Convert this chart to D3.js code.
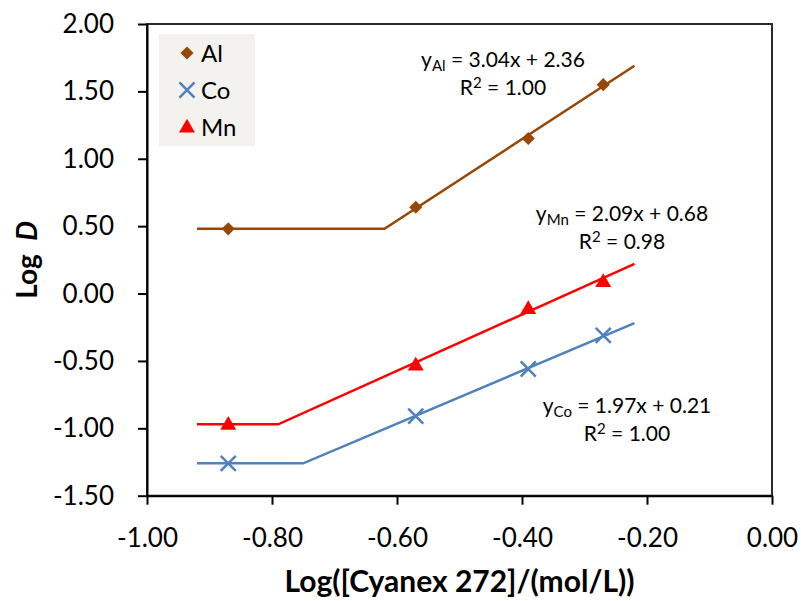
<!DOCTYPE html>
<html>
<head>
<meta charset="utf-8">
<script src="https://cdn.jsdelivr.net/npm/d3@7"></script>
<style>
  html, body { margin: 0; padding: 0; background: #fff; }
  svg { display: block; font-family: Lato, "Open Sans", sans-serif; }
</style>
</head>
<body>
<svg id="chart" width="801" height="601"></svg>
<script>
// ---- data ----
const xValues = [-0.87, -0.57, -0.39, -0.27];
const alValues = [0.48, 0.64, 1.15, 1.55];
const coValues = [-1.26, -0.91, -0.56, -0.31];
const mnValues = [-0.97, -0.53, -0.11, 0.09];

// fitted-line vertices (plateau then linear trend)
const alLineX = [-0.92, -0.62, -0.22];
const alLineY = [0.48, 0.48, 1.69];
const coLineX = [-0.92, -0.75, -0.22];
const coLineY = [-1.26, -1.26, -0.22];
const mnLineX = [-0.92, -0.79, -0.22];
const mnLineY = [-0.97, -0.97, 0.22];

const seriesNames = ["Al", "Co", "Mn"];
const xTicks = [-1.0, -0.8, -0.6, -0.4, -0.2, 0.0];
const yTicks = [2.0, 1.5, 1.0, 0.5, 0.0, -0.5, -1.0, -1.5];

const equations = [
  {sub: "Al", eq: " = 3.04x + 2.36", r2: " = 1.00"},
  {sub: "Mn", eq: " = 2.09x + 0.68", r2: " = 0.98"},
  {sub: "Co", eq: " = 1.97x + 0.21", r2: " = 1.00"}
];

// ---- layout ----
const svg = d3.select("#chart");
const pL = 147, pR = 772, pT = 24, pB = 495.7;
const x = d3.scaleLinear().domain([-1, 0]).range([pL, pR]);
const y = d3.scaleLinear().domain([-1.5, 2]).range([pB, pT]);

const colors = {Al: "#974706", Co: "#4F81BD", Mn: "#FF0000"};

// plot frame
svg.append("rect").attr("x", pL).attr("y", pT)
  .attr("width", pR - pL).attr("height", pB - pT)
  .attr("fill", "none").attr("stroke", "#2b2b2b").attr("stroke-width", 2);

// axes
const f2 = d3.format(".2f");
const fmt = v => f2(v).replace("\u2212", "-");
const xAxis = svg.append("g").attr("transform", `translate(0,${pB})`)
  .call(d3.axisBottom(x).tickValues(xTicks).tickFormat(fmt).tickSizeInner(9).tickSizeOuter(0).tickPadding(14));
const yAxis = svg.append("g").attr("transform", `translate(${pL},0)`)
  .call(d3.axisLeft(y).tickValues(yTicks).tickFormat(fmt).tickSizeInner(9).tickSizeOuter(0).tickPadding(24));
[xAxis, yAxis].forEach(a => {
  a.select(".domain").attr("stroke", "#000").attr("stroke-width", 2);
  a.selectAll(".tick line").attr("stroke", "#000").attr("stroke-width", 2);
  a.selectAll(".tick text").attr("font-family", "Lato, sans-serif")
    .attr("font-size", 26).attr("fill", "#000");
});
xAxis.selectAll(".tick text").attr("dy", null).attr("y", 51);
yAxis.selectAll(".tick text").attr("dy", "0.33em");

// axis titles
svg.append("text").attr("x", (pL + pR) / 2).attr("y", 592)
  .attr("text-anchor", "middle").attr("font-weight", "bold").attr("font-size", 30)
  .text("Log([Cyanex 272]/(mol/L))");
const yt = svg.append("text")
  .attr("transform", `translate(37,${(pT + pB) / 2}) rotate(-90)`)
  .attr("text-anchor", "middle").attr("font-weight", "bold").attr("font-size", 28)
  .attr("xml:space", "preserve");
yt.append("tspan").text("Log\u00a0\u00a0");
yt.append("tspan").attr("font-style", "italic").text("D");

// lines
const line = d3.line().x(d => x(d[0])).y(d => y(d[1]));
const lines = {
  Al: d3.zip(alLineX, alLineY),
  Co: d3.zip(coLineX, coLineY),
  Mn: d3.zip(mnLineX, mnLineY)
};
["Al", "Mn", "Co"].forEach(k => {
  svg.append("path").datum(lines[k]).attr("d", line)
    .attr("fill", "none").attr("stroke", colors[k]).attr("stroke-width", 2.5);
});

// markers
function drawMarker(g, name, cx, cy) {
  if (name === "Al") {
    g.append("path").attr("d", d3.symbol().type(d3.symbolDiamond2).size(110)())
      .attr("transform", `translate(${cx},${cy})`).attr("fill", colors.Al);
  } else if (name === "Co") {
    g.append("path").attr("d", d3.symbol().type(d3.symbolX).size(150)())
      .attr("transform", `translate(${cx},${cy})`).attr("fill", "none")
      .attr("stroke", colors.Co).attr("stroke-width", 2.5);
  } else {
    g.append("path").attr("d", d3.symbol().type(d3.symbolTriangle).size(110)())
      .attr("transform", `translate(${cx},${cy + 1})`).attr("fill", colors.Mn);
  }
}
const seriesData = {Al: alValues, Co: coValues, Mn: mnValues};
const mg = svg.append("g");
["Al", "Mn", "Co"].forEach(k => {
  seriesData[k].forEach((v, i) => drawMarker(mg, k, x(xValues[i]), y(v)));
});

// equations
const eqPos = [
  {cx: 503, y1: 67, y2: 95},
  {cx: 622, y1: 221, y2: 249},
  {cx: 627, y1: 413, y2: 441}
];
equations.forEach((e, i) => {
  const p = eqPos[i];
  const t1 = svg.append("text").attr("x", p.cx).attr("y", p.y1)
    .attr("text-anchor", "middle").attr("font-size", 21);
  t1.append("tspan").text("y");
  t1.append("tspan").attr("font-size", 15).attr("dy", 4).text(e.sub);
  t1.append("tspan").attr("dy", -4).text(e.eq);
  const t2 = svg.append("text").attr("x", p.cx).attr("y", p.y2)
    .attr("text-anchor", "middle").attr("font-size", 21);
  t2.append("tspan").text("R");
  t2.append("tspan").attr("font-size", 15).attr("dy", -7).text("2");
  t2.append("tspan").attr("dy", 7).text(e.r2);
});

// legend
const lg = svg.append("g");
lg.append("rect").attr("x", 159).attr("y", 34).attr("width", 96).attr("height", 112)
  .attr("fill", "#f3f2ee");
const legendY = [53, 90, 127];
seriesNames.forEach((k, i) => {
  drawMarker(lg, k, 187, legendY[i]);
  lg.append("text").attr("x", 201).attr("y", legendY[i]).attr("dy", "0.36em")
    .attr("font-size", 24).text(k);
});
</script>
</body>
</html>
